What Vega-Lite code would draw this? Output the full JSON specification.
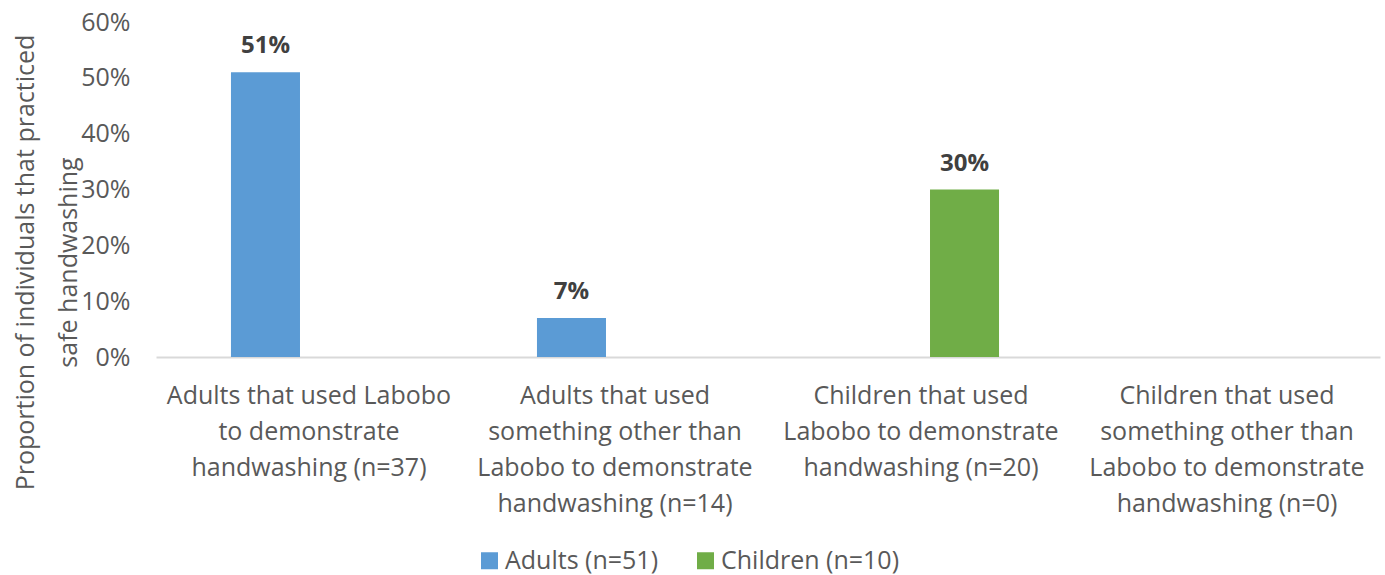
{
  "$schema": "https://vega.github.io/schema/vega-lite/v6.json",
  "width": 1224,
  "height": 335,
  "autosize": {"type": "none"},
  "padding": {"left": 156, "top": 22, "right": 5, "bottom": 218},
  "config": {"view": {"stroke": null}, "font": "Open Sans"},
  "data": {
    "values": [
      {"category": "Adults that used Labobo|to demonstrate|handwashing (n=37)", "group": "Adults (n=51)", "value": 0.51},
      {"category": "Adults that used|something other than|Labobo to demonstrate|handwashing (n=14)", "group": "Adults (n=51)", "value": 0.07},
      {"category": "Children that used|Labobo to demonstrate|handwashing (n=20)", "group": "Children (n=10)", "value": 0.30}
    ]
  },
  "encoding": {
    "x": {
      "field": "category",
      "type": "nominal",
      "sort": null,
      "scale": {
        "domain": [
          "Adults that used Labobo|to demonstrate|handwashing (n=37)",
          "Adults that used|something other than|Labobo to demonstrate|handwashing (n=14)",
          "Children that used|Labobo to demonstrate|handwashing (n=20)",
          "Children that used|something other than|Labobo to demonstrate|handwashing (n=0)"
        ],
        "paddingInner": 0.49,
        "paddingOuter": 0.245
      },
      "axis": {
        "title": null,
        "labelAngle": 0,
        "labelExpr": "split(datum.label, '|')",
        "labelFontSize": 25,
        "labelColor": "#595959",
        "labelLineHeight": 36,
        "labelPadding": 26,
        "labelLimit": 400,
        "ticks": false,
        "domainColor": "#d9d9d9",
        "domainWidth": 2
      }
    },
    "xOffset": {
      "field": "group",
      "type": "nominal",
      "scale": {"domain": ["Adults (n=51)", "Children (n=10)"], "paddingInner": 0.207, "paddingOuter": 0}
    },
    "y": {
      "field": "value",
      "type": "quantitative",
      "scale": {"domain": [0, 0.6]},
      "axis": {
        "values": [0, 0.1, 0.2, 0.3, 0.4, 0.5, 0.6],
        "format": ".0%",
        "grid": false,
        "domain": false,
        "ticks": false,
        "labelFontSize": 25,
        "labelColor": "#595959",
        "labelPadding": 26,
        "title": ["Proportion of individuals that practiced", "safe handwashing"],
        "titleFontSize": 25,
        "titleFontWeight": "normal",
        "titleColor": "#595959",
        "titleLineHeight": 43,
        "titleX": -131,
        "titleY": 240,
        "titleAngle": -90,
        "titleAlign": "center",
        "titleBaseline": "middle"
      }
    }
  },
  "layer": [
    {
      "mark": {"type": "bar"},
      "encoding": {
        "color": {
          "field": "group",
          "type": "nominal",
          "scale": {"domain": ["Adults (n=51)", "Children (n=10)"], "range": ["#5B9BD5", "#70AD47"]},
          "legend": {
            "title": null,
            "orient": "none",
            "direction": "horizontal",
            "legendX": 321,
            "legendY": 526,
            "symbolType": "square",
            "symbolSize": 289,
            "symbolStrokeWidth": 0,
            "symbolOpacity": 1,
            "labelFontSize": 25,
            "labelColor": "#595959",
            "labelOffset": 3,
            "columnPadding": 34,
            "labelLimit": 300
          }
        }
      }
    },
    {
      "mark": {"type": "text", "fontWeight": "bold", "fontSize": 24, "color": "#404040", "baseline": "alphabetic", "dy": -19},
      "encoding": {"text": {"field": "value", "type": "quantitative", "format": ".0%"}}
    }
  ]
}
